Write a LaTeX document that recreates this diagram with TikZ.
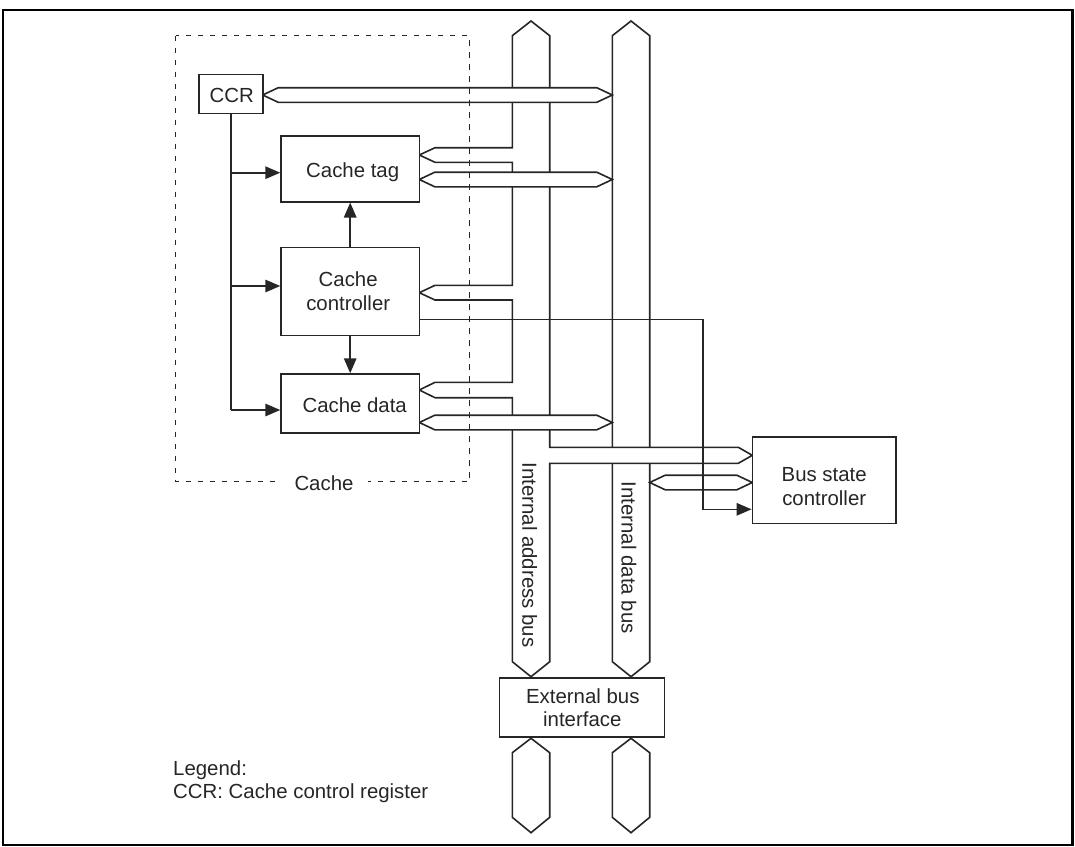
\documentclass[tikz,border=0pt]{standalone}
\usepackage{fontspec}
\setmainfont{Liberation Sans}
\usetikzlibrary{arrows.meta,calc}
\newcommand\fsz{\fontsize{20.4}{24}\selectfont}
\newcommand\twowayarrow[3]{\draw[busln] (#1,#3) -- (#1+15.5,#3-7.3) -- (#2-15.5,#3-7.3) -- (#2,#3) -- (#2-15.5,#3+7.3) -- (#1+15.5,#3+7.3) -- cycle;}
\begin{document}
\begin{tikzpicture}[x=1pt,y=-1pt,
  busln/.style={line width=1.6pt, fill=white, line join=miter, draw=black!85},
  box/.style={draw=black!85, line width=1.6pt, inner sep=0pt, fill=white},
  txt/.style={font=\fsz, text=black!85, inner sep=0pt, anchor=base},
  ctrl/.style={line width=1.6pt, draw=black!85, -{Triangle[length=15pt,width=12.5pt]}},
  plain/.style={line width=1.6pt, draw=black!85},
  cachebox/.style={line width=1.5pt, draw=black!85, dash pattern=on 5.5pt off 6.5pt},
]
\useasboundingbox (0,0) rectangle (1075,846);
\draw[line width=2.2pt] (3,10.3) rectangle (1072.5,844.8);

% internal data bus
\draw[busln] (631,21) -- (649.7,35.7) -- (649.7,661.7) -- (631,676.7) -- (612.3,661.7) -- (612.3,35.7) -- cycle;
% internal address bus with its branches
\draw[busln] (531,21) -- (549.7,35.7) -- (549.7,447.3) -- (738.3,447.3) -- (752.3,455.3) -- (738.3,463.3) -- (549.7,463.3)
  -- (549.7,661.7) -- (531,676.7) -- (512.3,661.7)
  -- (512.3,397.7) -- (435,397.7) -- (419.3,390) -- (435,382.3) -- (512.3,382.3)
  -- (512.3,300) -- (435,300) -- (419.3,292.7) -- (435,285.3) -- (512.3,285.3)
  -- (512.3,162.3) -- (435,162.3) -- (419.3,155) -- (435,147.7) -- (512.3,147.7)
  -- (512.3,35.7) -- cycle;
% external buses
\draw[busln] (531,738.3) -- (549.7,752.7) -- (549.7,817.3) -- (531,832.7) -- (512.3,817.3) -- (512.3,752.7) -- cycle;
\draw[busln] (631,738.3) -- (649.7,752.7) -- (649.7,817.3) -- (631,832.7) -- (612.3,817.3) -- (612.3,752.7) -- cycle;

% two-way data bus arrows
\twowayarrow{262.7}{612.3}{95}
\twowayarrow{419.3}{612.3}{179.5}
\twowayarrow{419.3}{612.3}{422.5}
\twowayarrow{649.7}{752.3}{482.5}

% boxes
\node[box, minimum width=63.7pt, minimum height=39pt] (ccr) at (231,93.8) {};
\node[box, minimum width=138.3pt, minimum height=65.7pt] (tag) at (350.2,168.9) {};
\node[box, minimum width=138.3pt, minimum height=88pt] (ctl) at (350.2,291.3) {};
\node[box, minimum width=138.3pt, minimum height=58.7pt] (dat) at (350.2,403.4) {};
\node[box, minimum width=143.7pt, minimum height=86.3pt] (bsc) at (824.2,480.2) {};
\node[box, minimum width=165pt, minimum height=59pt] (ebi) at (581.8,707.2) {};

% control connections
\draw[plain] (ccr.south) -- (ccr.south |- 0,410);
\draw[ctrl] (ccr.south |- 0,172.7) -- (tag.west |- 0,172.7);
\draw[ctrl] (ccr.south |- 0,286) -- (ctl.west |- 0,286);
\draw[ctrl] (ccr.south |- 0,410) -- (dat.west |- 0,410);
\draw[ctrl] (ctl.north) -- (tag.south);
\draw[ctrl] (ctl.south) -- (dat.north);
\coordinate (bend) at (702.7,319.3);
\draw[ctrl] (ctl.east |- bend) -- (bend) |- (bsc.west |- 0,509.3);

% cache boundary
\draw[cachebox] (175.5,35.7) rectangle (469.3,481.7);
\node[txt, fill=white, inner xsep=15pt, inner ysep=1pt] (cachelbl) at (324,490) {Cache};

% texts
\node[txt] (ccrt) at (231.7,102) {CCR};
\node[txt] (tagt) at (352.7,177.3) {Cache tag};
\node[txt] (ctlt1) at (348.2,286.7) {Cache};
\node[txt] (ctlt2) at (348.2,310) {controller};
\node[txt] (datt) at (354.7,412.7) {Cache data};
\node[txt] (bsct1) at (824.2,481.7) {Bus state};
\node[txt] (bsct2) at (824.2,505) {controller};
\node[txt] (ebit1) at (582.8,703.3) {External bus};
\node[txt] (ebit2) at (582.3,726.7) {interface};
\node[font=\fsz, text=black!85, inner sep=0pt, rotate=-90] (iab) at (529.7,555) {Internal address bus};
\node[font=\fsz, text=black!85, inner sep=0pt, rotate=-90] (idb) at (629,557.7) {Internal data bus};
\node[txt, anchor=base west] (leg1) at (173,775) {Legend:};
\node[txt, anchor=base west] (leg2) at (173,798.3) {CCR: Cache control register};
\end{tikzpicture}
\end{document}
